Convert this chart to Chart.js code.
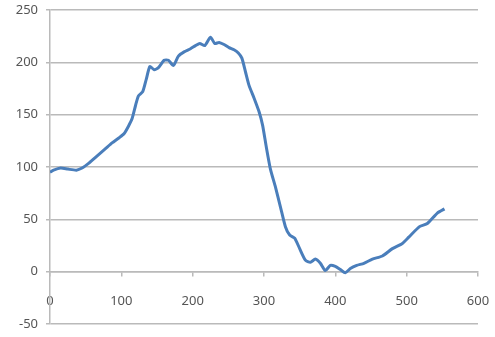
<!DOCTYPE html>
<html>
<head>
<meta charset="utf-8">
<script src="https://cdn.jsdelivr.net/npm/chart.js@4"></script>
<style>
  html, body { margin: 0; padding: 0; background: #fff; }
  #wrap { width: 495px; height: 337px; position: relative; }
</style>
</head>
<body>
<div id="wrap"><canvas id="chart"></canvas></div>
<script>
// values
const xValues = [0, 5, 15, 25, 37, 45, 55, 65, 77, 87, 97, 104, 110, 115, 120, 124, 130, 135, 140, 146,
    152, 160, 166, 173, 180, 188, 197, 204, 210, 217, 225, 231, 237, 244, 251, 258, 264, 269, 274, 279,
    286, 293, 298, 303, 309, 316, 323, 330, 336, 343, 350, 358, 365, 372, 379, 386, 393, 400, 407, 414,
    421, 430, 440, 452, 466, 480, 494, 503, 518, 529, 543, 553];
const yValues = [95, 97, 99, 98, 97, 99, 104, 110, 117, 123, 128, 132, 139, 146, 159, 168, 172, 184, 196, 193,
    195, 202, 202, 197, 206, 210, 213, 216, 218, 216, 224, 218, 219, 217, 214, 212, 209, 204, 191, 178,
    166, 153, 140, 120, 98, 81, 62, 43, 35, 32, 22, 11, 9, 12, 8, 1, 6, 5, 2, -1,
    3, 6, 8, 12, 15, 22, 27, 33, 43, 46, 56, 60];
const xTicks = [0, 100, 200, 300, 400, 500, 600];
const yTicks = [-50, 0, 50, 100, 150, 200, 250];

const points = xValues.map((x, i) => ({ x: x, y: yValues[i] }));

const gridColor = '#bababa';
const textColor = '#555555';

new Chart(document.getElementById('chart').getContext('2d'), {
    type: 'line',
    data: {
        datasets: [{
            data: points,
            borderColor: '#4a7ebb',
            borderWidth: 3,
            pointRadius: 0,
            tension: 0.2,
            fill: false
        }]
    },
    options: {
        responsive: true,
        maintainAspectRatio: false,
        animation: false,
        layout: { padding: { left: 0, right: 17, top: 10, bottom: 13 } },
        plugins: {
            legend: { display: false },
            tooltip: { enabled: false }
        },
        scales: {
            x: {
                type: 'linear',
                position: { y: 0 },
                min: xTicks[0],
                max: xTicks[xTicks.length - 1],
                afterFit: s => { s.height = 0; s.paddingLeft = 0; s.paddingRight = 0; },
                afterBuildTicks: s => { s.ticks = xTicks.map(v => ({ value: v })); },
                grid: { drawOnChartArea: false, drawTicks: true, tickLength: 4, color: gridColor, lineWidth: 1.5 },
                border: { display: true, color: gridColor, width: 1.5 },
                ticks: { padding: 18, color: textColor, maxRotation: 0, font: { family: 'Noto Sans', size: 13 } }
            },
            y: {
                min: yTicks[0],
                max: yTicks[yTicks.length - 1],
                afterFit: s => { s.width = 50; s.paddingTop = 0; s.paddingBottom = 0; },
                afterBuildTicks: s => { s.ticks = yTicks.map(v => ({ value: v })); },
                grid: { color: gridColor, lineWidth: 1.5, tickLength: 4 },
                border: { display: true, color: gridColor, width: 1.5 },
                ticks: { padding: 8, color: textColor, font: { family: 'Noto Sans', size: 13 } }
            }
        }
    }
});
</script>
</body>
</html>
